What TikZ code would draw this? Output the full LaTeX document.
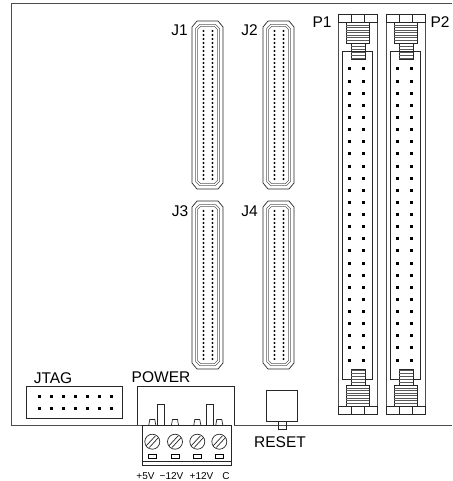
\documentclass[tikz,border=0pt]{standalone}
\usepackage{fontspec}
\setmainfont{Liberation Sans}
\tikzset{
    pics/ribbon/.style = {code = {
        \draw[partline] (0,6) -- (5,0) -- (26,0) -- (31,6) -- (31,162) -- (26,168) -- (5,168) -- (0,162) -- cycle;
        \draw[thinline] (3.5,7.5) -- (7.5,3.5) -- (23.5,3.5) -- (27.5,7.5) -- (27.5,160.5) -- (23.5,164.5) -- (7.5,164.5) -- (3.5,160.5) -- cycle;
        \draw[thinline] (5.5,8.5) -- (8.5,5.5) -- (22.5,5.5) -- (25.5,8.5) -- (25.5,159.5) -- (22.5,162.5) -- (8.5,162.5) -- (5.5,159.5) -- cycle;
        \foreach \row in {0,...,37} {
            \fill (11.5,10 + 4*\row) circle (1.15);
            \fill (20.5,10 + 4*\row) circle (1.15);
        }
    }},
    pics/latch/.style = {code = {
        \draw[partline] (8,8) rectangle (31,29);
        \foreach \row in {11,13.5,...,26} \draw[thinline] (8,\row) -- (31,\row);
        \draw[partline] (13,29) rectangle (27,45);
        \foreach \row in {32,35,...,44} \draw[thinline] (13,\row) -- (27,\row);
        \draw[partline] (0,0) rectangle (13,8);
        \draw[partline] (26,0) rectangle (39,8);
        \draw[partline] (13,0) -- (26,0);
    }}
}
\begin{document}
\begin{tikzpicture}[x = 1pt, y = -1pt,
    partline/.style = {draw = black!85, line width = 0.7pt},
    thinline/.style = {draw = black!65, line width = 0.5pt},
    board/.style = {draw = black!70, line width = 0.9pt},
    textlabel/.style = {inner sep = 0pt, font = \fontsize{15.5}{15.5}\selectfont},
    smalllabel/.style = {inner sep = 0pt, font = \fontsize{10}{10}\selectfont}]
        \useasboundingbox (0,0) rectangle (452,481);
        \draw[board] (452,3) -- (11,3) -- (11,425) -- (137,425);
        \draw[board] (234,425) -- (452,425);

        \pic at (192,21) {ribbon};
        \pic at (263,21) {ribbon};
        \pic at (192,201) {ribbon};
        \pic at (263,201) {ribbon};
        \node[textlabel] (j1) at (179.5,30) {J1};
        \node[textlabel] (j2) at (249.5,30) {J2};
        \node[textlabel] (j3) at (180,211) {J3};
        \node[textlabel] (j4) at (249.5,211) {J4};

        \foreach \x in {338,386} {
            \draw[board] (\x,14) -- (\x,414);
            \draw[board] (\x + 39,14) -- (\x + 39,414);
            \draw[partline] (\x + 4.5,51) rectangle (\x + 34.5,379);
            \pic at (\x,14) {latch};
            \pic[yscale = -1] at (\x,414) {latch};
            \foreach \row in {0,...,24} {
                \fill (\x + 11.5 - 1.5,69 + 12.125*\row - 1.5) rectangle ++(3,3);
                \fill (\x + 25.5 - 1.5,69 + 12.125*\row - 1.5) rectangle ++(3,3);
            }
        }
        \node[textlabel] (p1) at (322,22) {P1};
        \node[textlabel] (p2) at (440,22) {P2};

        \node[textlabel] (jtag) at (53,378) {JTAG};
        \draw[partline] (26,386) rectangle (122,418);
        \foreach \col in {0,...,6} {
            \fill (39 + 12.1*\col - 1.5,396.7 - 1.5) rectangle ++(3,3);
            \fill (39 + 12.1*\col - 1.5,408.3 - 1.5) rectangle ++(3,3);
        }

        \node[textlabel] (power) at (161,377) {POWER};
        \draw[partline] (137,425) -- (137,386) -- (234,386) -- (234,425);
        \draw[partline] (157.3,425) -- (157.3,404) -- (164.3,404) -- (164.3,425);
        \draw[partline] (206.7,425) -- (206.7,404) -- (213.7,404) -- (213.7,425);
        \draw[partline] (142,425.5) rectangle (231,465);
        \draw[partline] (142,461.5) -- (231,461.5);
        \draw[board] (137,425.5) -- (142,425.5);
        \foreach \x/\w in {152.3/0.5,175/0.5,197.3/0.9,219.3/0.9} {
            \draw[partline] (\x,441.7) circle (7.5);
            \draw[partline] (\x - 6,445.7) -- (\x + 3,436);
            \draw[partline] (\x - 3,447.5) -- (\x + 6,437.7);
            \draw[partline] (\x - 3.5,425) -- (\x - 2.5,419.5) -- (\x + 2.5,419.5) -- (\x + 3.5,425);
            \draw[draw = black, line width = \w pt] (\x - 4,454.7) rectangle (\x + 4,458.7);
        }
        \node[smalllabel] (plusfive) at (145.5,476) {+5V};
        \node[smalllabel] (minustwelve) at (171.5,476) {−12V};
        \node[smalllabel] (plustwelve) at (201.5,476) {+12V};
        \node[smalllabel] (common) at (226,476) {C};

        \draw[partline] (266,390) rectangle (297,421.7);
        \draw[partline] (278.3,421.7) rectangle (286.7,429.3);
        \node[textlabel] (reset) at (280,442) {RESET};
\end{tikzpicture}
\end{document}
